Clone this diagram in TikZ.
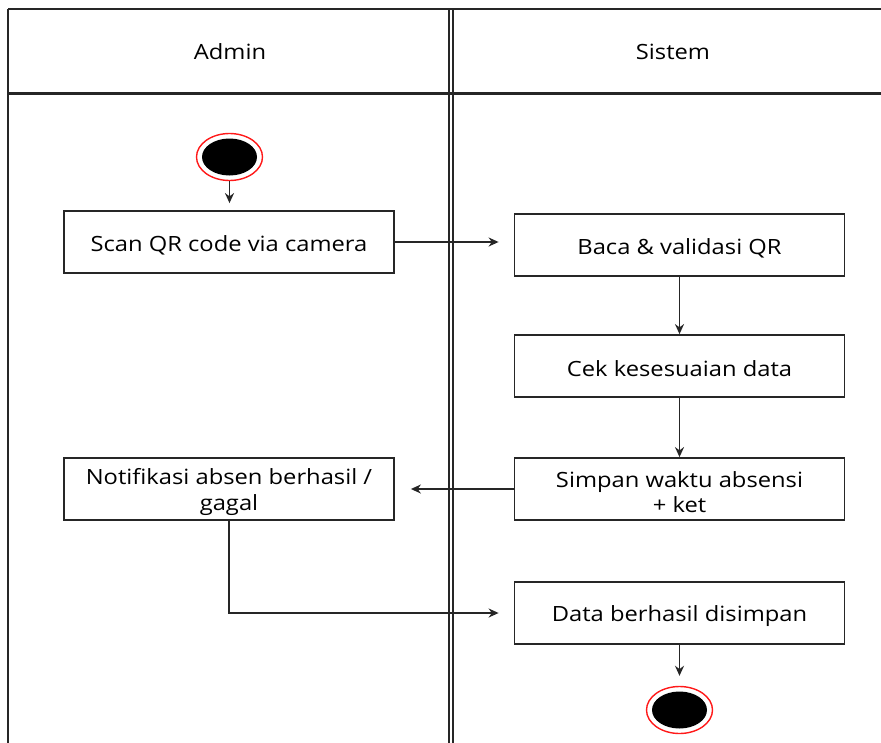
\documentclass[tikz,border=0pt]{standalone}
\usepackage{fontspec}
\setmainfont[FakeStretch=1.13]{Open Sans}
\usetikzlibrary{arrows.meta,shapes.geometric}
\begin{document}
\begin{tikzpicture}[x=1pt,y=-1pt,
  lane/.style={line width=2.2pt,draw=black!85},
  actbox/.style={draw=black!85,line width=1.8pt,rectangle,minimum width=330pt,minimum height=62pt,inner sep=0pt},
  flow/.style={line width=1.8pt,draw=black!85,-{Stealth[length=10pt,width=9pt]}},
  term/.style={ellipse,draw=red!90,line width=1.4pt,fill=white,minimum width=66pt,minimum height=47pt,inner sep=0pt},
  lbl/.style={font=\fontsize{21}{25.5}\selectfont,align=center,inner sep=0pt}]
\useasboundingbox (0,0) rectangle (881,742);
\clip (0,0) rectangle (881,742);
\fill[white] (0,0) rectangle (881,742);
% swimlanes
\draw[lane] (8,9) -- (8,760);
\draw[lane] (8,9) -- (900,9);
\draw[line width=3pt,draw=black!85] (8,93) -- (900,93);
\draw[lane] (449.3,9) -- (449.3,760);
\draw[lane] (452.8,9) -- (452.8,760);
\node[lbl] (hadmin) at (230,52) {Admin};
\node[lbl] (hsistem) at (673,52) {Sistem};
% start
\node[term] (start) at (229.5,157) {};
\fill[black] (start.center) ellipse [x radius=27.5, y radius=18.5];
% activities
\node[actbox] (scan) at (229,242) {};
\node[actbox] (baca) at (679.5,245) {};
\node[actbox] (cek) at (679.5,366) {};
\node[actbox] (simpan) at (679.5,489) {};
\node[actbox] (notif) at (229,489) {};
\node[actbox] (data) at (679.5,613) {};
\node[lbl] (scant) at ([yshift=-3pt]scan.center) {Scan QR code via camera};
\node[lbl] (bacat) at ([yshift=-3pt]baca.center) {Baca \& validasi QR};
\node[lbl] (cekt) at ([yshift=-3pt]cek.center) {Cek kesesuaian data};
\node[lbl] (simpant) at ([yshift=-3pt]simpan.center) {Simpan waktu absensi\\+ ket};
\node[lbl] (notift) at ([yshift=-3pt]notif.center) {Notifikasi absen berhasil /\\gagal};
\node[lbl] (datat) at ([yshift=-3pt]data.center) {Data berhasil disimpan};
% end
\node[term] (end) at (679.5,710) {};
\fill[black] (end.center) ellipse [x radius=27.5, y radius=18.5];
% flows
\draw[flow,shorten >=7pt] (start.south) -- (scan.north -| start.south);
\draw[flow,shorten >=15pt] (scan.east) -- (baca.west |- scan.east);
\draw[flow] (baca.south) -- (cek.north);
\draw[flow] (cek.south) -- (simpan.north);
\draw[flow,shorten >=16pt] (simpan.west) -- (notif.east);
\draw[flow,shorten >=15pt] (notif.south) |- (data.west);
\draw[flow,shorten >=10pt] (data.south) -- (end.north);
\end{tikzpicture}
\end{document}
